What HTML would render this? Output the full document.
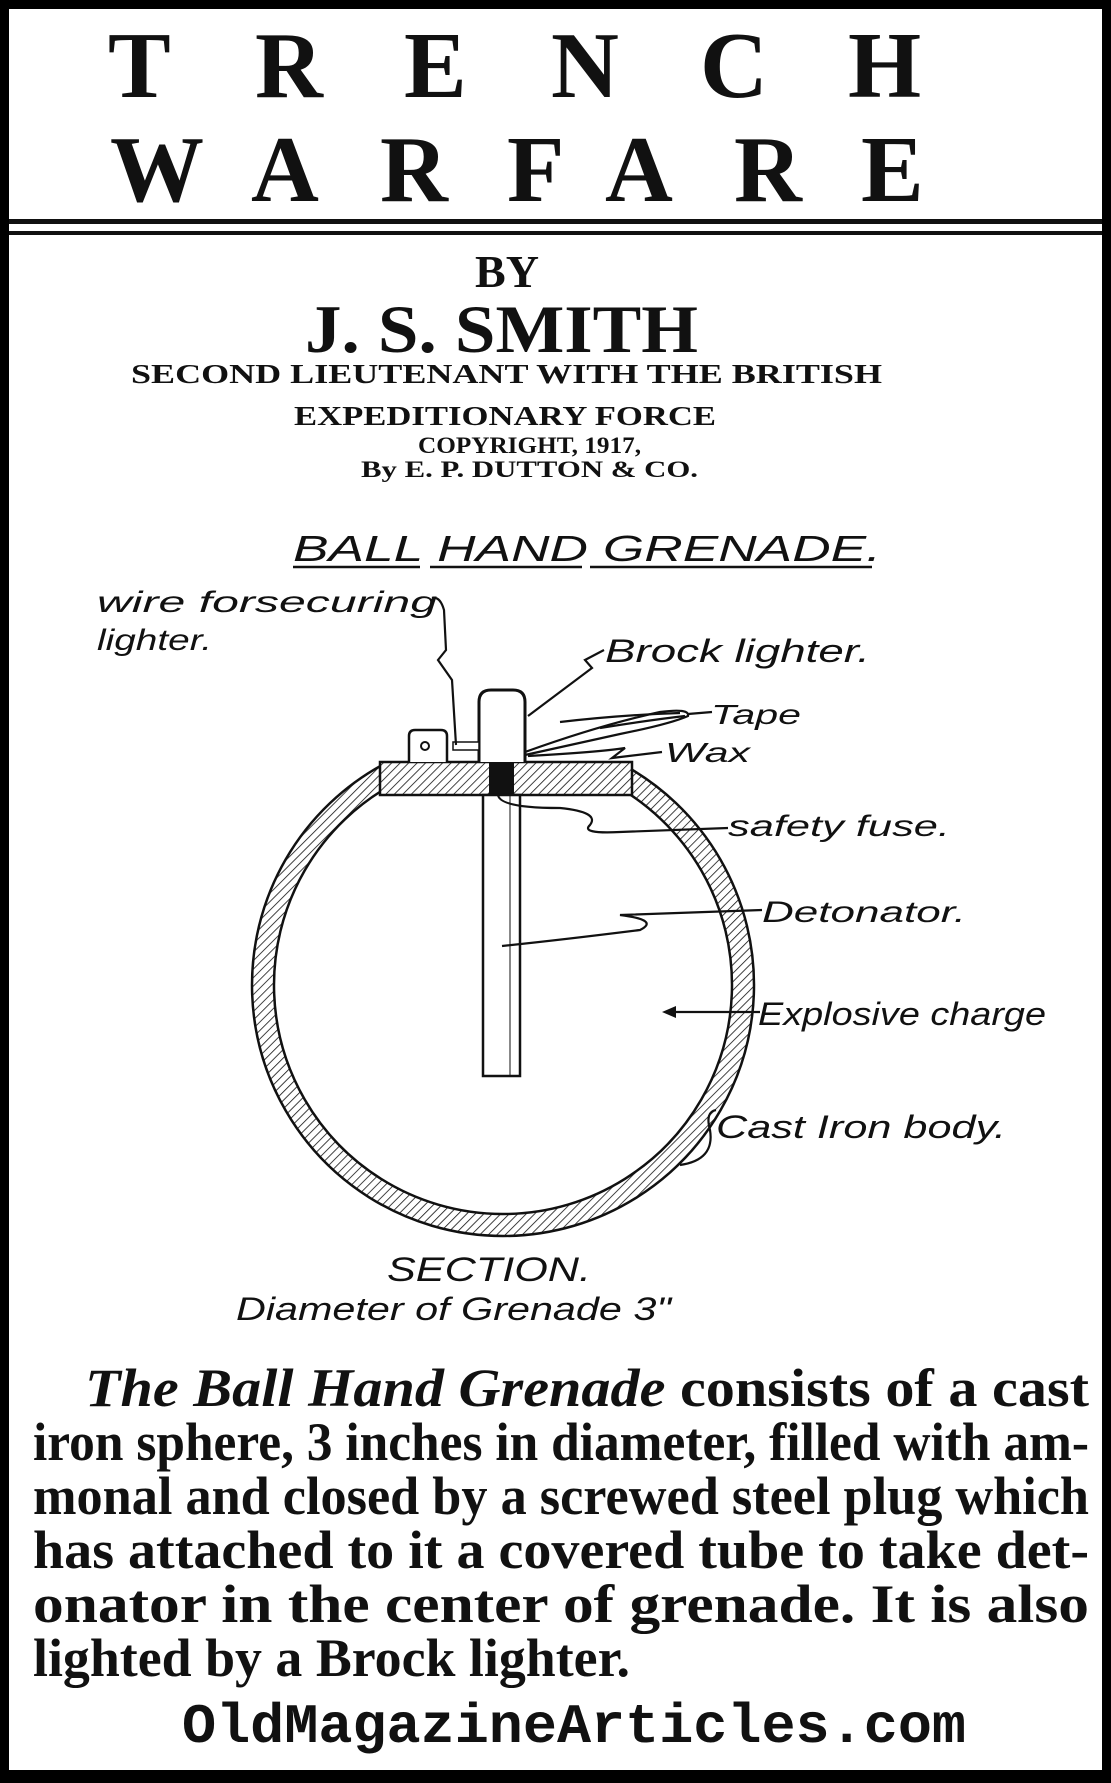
<!DOCTYPE html>
<html><head><meta charset="utf-8"><style>
html,body{margin:0;padding:0;background:#fff}
svg{display:block}
.h{font-family:"Liberation Serif",serif;font-weight:bold;font-size:94px;fill:#111}
.s{font-family:"Liberation Serif",serif;font-weight:bold;fill:#111}
.w{font-family:"Liberation Sans",sans-serif;font-style:italic;fill:#111}
.p{font-family:"Liberation Serif",serif;font-weight:bold;font-size:54px;fill:#111}
.m{font-family:"Liberation Mono",monospace;font-weight:bold;font-size:56px;fill:#111}
</style></head><body>
<svg width="1111" height="1783" viewBox="0 0 1111 1783" xmlns="http://www.w3.org/2000/svg">
<defs>
<pattern id="hatch" patternUnits="userSpaceOnUse" width="6" height="6" patternTransform="rotate(45)">
<rect width="6" height="6" fill="#fff"/><line x1="0" y1="0" x2="0" y2="6" stroke="#111" stroke-width="1.6"/>
</pattern>
<clipPath id="below"><rect x="0" y="764" width="1111" height="600"/></clipPath>
</defs>
<rect x="0" y="0" width="1111" height="1783" fill="#000"/>
<rect x="9" y="9" width="1093" height="1761" fill="#fff"/>
<rect x="9" y="219" width="1093" height="5" fill="#111"/>
<rect x="9" y="231" width="1093" height="4" fill="#111"/>

<!-- title -->
<text class="h" x="108" y="97">T</text>
<text class="h" x="255" y="97">R</text>
<text class="h" x="404" y="97">E</text>
<text class="h" x="551" y="97">N</text>
<text class="h" x="700" y="97">C</text>
<text class="h" x="848" y="97">H</text>
<text class="h" x="110" y="201">W</text>
<text class="h" x="251" y="201">A</text>
<text class="h" x="380" y="201">R</text>
<text class="h" x="507" y="201">F</text>
<text class="h" x="605" y="201">A</text>
<text class="h" x="734" y="201">R</text>
<text class="h" x="861" y="201">E</text>

<text class="s" x="475" y="287" font-size="46" textLength="64" lengthAdjust="spacingAndGlyphs">BY</text>
<text class="s" x="305" y="352" font-size="68" textLength="393" lengthAdjust="spacingAndGlyphs">J. S. SMITH</text>
<text class="s" x="131" y="383" font-size="27" textLength="751" lengthAdjust="spacingAndGlyphs">SECOND LIEUTENANT WITH THE BRITISH</text>
<text class="s" x="294" y="425" font-size="27" textLength="422" lengthAdjust="spacingAndGlyphs">EXPEDITIONARY FORCE</text>
<text class="s" x="418" y="453" font-size="23" textLength="223" lengthAdjust="spacingAndGlyphs" font-weight="normal">COPYRIGHT, 1917,</text>
<text class="s" x="361" y="477" font-size="23" textLength="337" lengthAdjust="spacingAndGlyphs" font-weight="normal">By E. P. DUTTON &amp; CO.</text>

<!-- diagram heading -->
<text class="w" x="293" y="561" font-size="36" textLength="588" lengthAdjust="spacingAndGlyphs">BALL HAND GRENADE.</text>
<g stroke="#111" stroke-width="2.5">
<line x1="293" y1="567" x2="420" y2="567"/><line x1="430" y1="567" x2="582" y2="567"/><line x1="590" y1="567" x2="872" y2="567"/>
</g>

<!-- grenade -->
<path clip-path="url(#below)" d="M503 734 a251 251 0 1 0 0.01 0 Z M503 756 a229 229 0 1 1 -0.01 0 Z" fill="url(#hatch)" fill-rule="evenodd" stroke="#111" stroke-width="2.5"/>
<rect x="380" y="762" width="252" height="33" fill="url(#hatch)" stroke="#111" stroke-width="2.5"/>
<rect x="489" y="762" width="25" height="33" fill="#111"/>
<rect x="483" y="795" width="37" height="281" fill="#fff" stroke="#111" stroke-width="2.5"/>
<line x1="510" y1="795" x2="510" y2="1076" stroke="#111" stroke-width="1"/>
<path d="M479 762 L479 702 Q479 690 491 690 L513 690 Q525 690 525 702 L525 762" fill="#fff" stroke="#111" stroke-width="3"/>
<path d="M409 762 L409 736 Q409 730 415 730 L441 730 Q447 730 447 736 L447 762" fill="#fff" stroke="#111" stroke-width="2.5"/>
<circle cx="425" cy="746" r="4" fill="none" stroke="#111" stroke-width="2"/>
<rect x="453" y="742" width="26" height="8" fill="#fff" stroke="#111" stroke-width="1.5"/>

<!-- leaders -->
<g fill="none" stroke="#111" stroke-width="2.2">
<path d="M432 598 Q440 596 444 610 L446 650 L438 660 L452 680 L456 745"/>
<path d="M604 650 L585 660 L592 668 L528 716"/>
<path d="M525 752 Q600 725 660 712 Q690 708 688 716 Q670 724 620 734 Q570 745 525 755"/>
<path d="M560 722 Q620 715 680 713 M600 728 Q650 720 685 716"/>
<path d="M688 714 L712 712"/>
<path d="M528 756 Q600 752 625 748 L612 758 L662 752"/>
<path d="M498 795 Q500 808 560 808 Q600 812 590 825 Q580 834 620 832 L728 828"/>
<path d="M502 946 Q560 940 640 930 Q660 920 620 915 L762 910"/>
<path d="M760 1012 L670 1012"/>
<path d="M716 1110 Q705 1112 710 1130 Q715 1160 680 1165"/>
</g>
<path d="M662 1012 L676 1006 L676 1018 Z" fill="#111"/>

<!-- labels -->
<text class="w" x="97" y="612" font-size="30" textLength="340" lengthAdjust="spacingAndGlyphs">wire forsecuring</text>
<text class="w" x="97" y="650" font-size="30" textLength="115" lengthAdjust="spacingAndGlyphs">lighter.</text>
<text class="w" x="605" y="662" font-size="32" textLength="265" lengthAdjust="spacingAndGlyphs">Brock lighter.</text>
<text class="w" x="711" y="724" font-size="28" textLength="90" lengthAdjust="spacingAndGlyphs">Tape</text>
<text class="w" x="665" y="762" font-size="28" textLength="85" lengthAdjust="spacingAndGlyphs">Wax</text>
<text class="w" x="728" y="836" font-size="30" textLength="222" lengthAdjust="spacingAndGlyphs">safety fuse.</text>
<text class="w" x="762" y="922" font-size="30" textLength="204" lengthAdjust="spacingAndGlyphs">Detonator.</text>
<text class="w" x="758" y="1025" font-size="32" textLength="288" lengthAdjust="spacingAndGlyphs">Explosive charge</text>
<text class="w" x="716" y="1138" font-size="32" textLength="290" lengthAdjust="spacingAndGlyphs">Cast Iron body.</text>
<text class="w" x="387" y="1281" font-size="34" textLength="204" lengthAdjust="spacingAndGlyphs">SECTION.</text>
<text class="w" x="236" y="1320" font-size="32" textLength="435" lengthAdjust="spacingAndGlyphs">Diameter of Grenade 3"</text>

<!-- paragraph -->
<text class="p" x="85" y="1406" textLength="1004" lengthAdjust="spacingAndGlyphs"><tspan font-style="italic">The Ball Hand Grenade</tspan> consists of a cast</text>
<text class="p" x="33" y="1460" textLength="1056" lengthAdjust="spacingAndGlyphs">iron sphere, 3 inches in diameter, filled with am-</text>
<text class="p" x="33" y="1514" textLength="1056" lengthAdjust="spacingAndGlyphs">monal and closed by a screwed steel plug which</text>
<text class="p" x="33" y="1568" textLength="1056" lengthAdjust="spacingAndGlyphs">has attached to it a covered tube to take det-</text>
<text class="p" x="33" y="1622" textLength="1056" lengthAdjust="spacingAndGlyphs">onator in the center of grenade.  It is also</text>
<text class="p" x="33" y="1676" textLength="597" lengthAdjust="spacingAndGlyphs">lighted by a Brock lighter.</text>

<text class="m" x="182" y="1742" textLength="784" lengthAdjust="spacingAndGlyphs">OldMagazineArticles.com</text>
</svg>
</body></html>
